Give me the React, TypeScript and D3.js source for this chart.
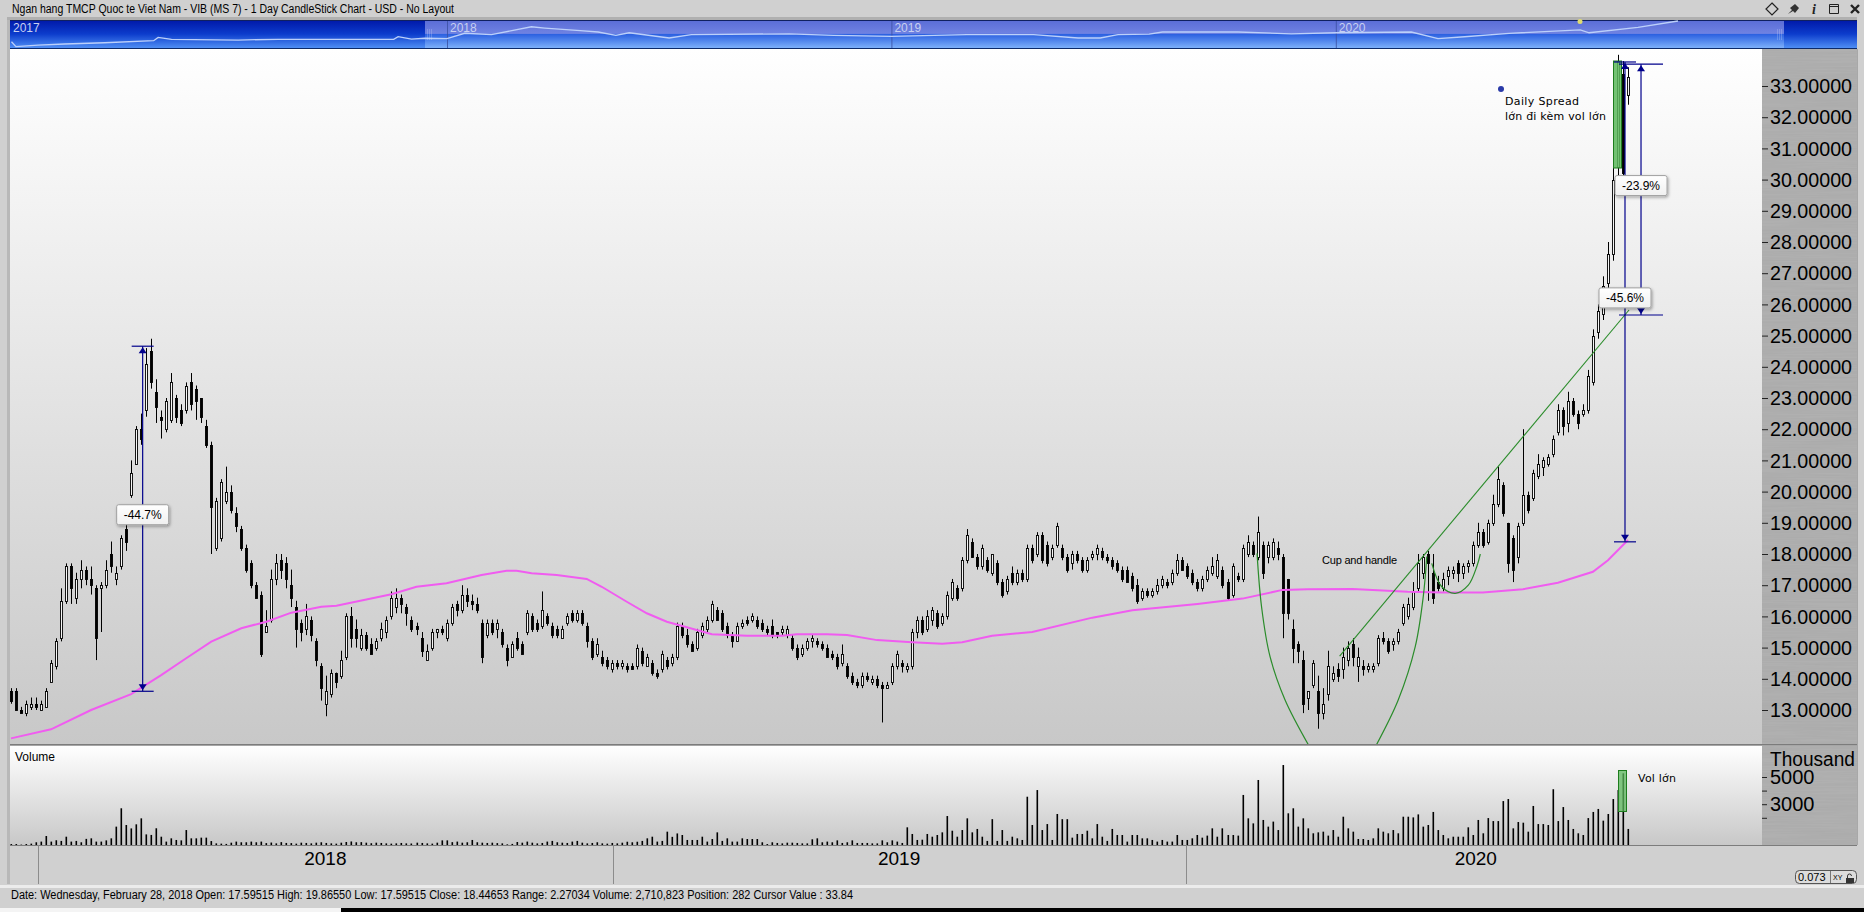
import React from "react";
import * as d3 from "d3";

const WIDTH = 1864;
const HEIGHT = 912;
const PLOT = { left: 10, right: 1762, top: 48, bottom: 744 };
const VOL = { top: 746, bottom: 845 };

// each row: open, close, high, low
const barsLate2017 = [
  [13.6, 13.3, 13.7, 13.2], [13.6, 13.0, 13.7, 13.0], [13.0, 12.9, 13.1, 12.9], [12.9, 13.2, 13.3, 12.8], [13.1, 13.2, 13.4, 13.0],
];
const bars2018 = [
  [13.2, 13.1, 13.4, 13.0], [13.0, 13.2, 13.3, 13.0], [13.1, 13.6, 13.7, 13.1], [13.9, 14.5, 14.6, 13.9], [14.4, 15.2, 15.3, 14.3],
  [15.3, 16.5, 16.9, 15.2], [16.5, 17.6, 17.7, 16.4], [17.6, 16.9, 17.7, 16.4], [16.6, 17.2, 17.4, 16.4], [17.2, 17.5, 17.8, 16.9],
  [17.5, 17.2, 17.6, 17.0], [17.2, 17.0, 17.6, 16.7], [16.9, 15.3, 17.0, 14.6], [16.9, 17.0, 17.1, 15.5], [17.0, 17.5, 17.8, 16.9],
  [18.0, 17.6, 18.4, 17.4], [17.2, 17.4, 17.6, 17.0], [17.6, 18.5, 18.6, 17.5], [18.8, 18.4, 19.1, 18.1], [19.9, 20.6, 21.0, 19.8],
  [20.9, 22.0, 22.1, 20.9], [22.0, 21.7, 22.5, 21.5], [22.6, 24.1, 24.6, 22.4], [24.5, 23.5, 24.9, 23.3], [23.2, 22.7, 23.6, 22.2],
  [22.4, 22.3, 22.6, 21.7], [22.0, 22.9, 23.0, 21.9], [22.3, 23.5, 23.8, 22.2], [23.0, 22.4, 23.1, 22.2], [22.6, 22.2, 22.8, 22.1],
  [22.6, 23.4, 23.5, 22.5], [23.5, 22.8, 23.8, 22.6], [23.3, 22.9, 23.4, 22.3], [23.0, 22.4, 23.0, 22.2], [22.1, 21.5, 22.3, 21.4],
  [21.5, 19.5, 21.6, 18.0], [18.2, 19.7, 19.8, 18.1], [18.5, 20.3, 20.4, 18.4], [19.7, 20.0, 20.8, 19.6], [20.0, 19.4, 20.2, 19.3],
  [19.3, 18.9, 19.5, 18.7], [18.8, 18.2, 18.9, 18.1], [18.2, 17.5, 18.3, 17.4], [17.7, 17.0, 17.8, 16.9], [17.0, 16.6, 17.1, 16.6],
  [16.7, 14.8, 16.8, 14.7], [15.5, 15.7, 16.2, 15.5], [15.9, 17.2, 17.5, 15.8], [17.2, 17.7, 18.0, 17.0], [17.8, 17.5, 18.0, 17.2],
  [17.7, 17.2, 17.9, 16.9], [17.0, 16.6, 17.5, 16.3], [16.3, 15.6, 16.5, 15.0], [15.8, 15.5, 15.9, 15.2], [15.6, 16.0, 16.4, 15.4],
  [15.9, 15.4, 16.0, 15.2], [15.2, 14.6, 15.3, 14.4], [14.4, 13.7, 14.5, 13.3], [13.2, 13.6, 14.1, 12.8], [13.5, 14.2, 14.3, 13.4],
  [14.2, 13.9, 14.2, 13.7], [14.1, 14.6, 14.9, 14.0], [14.7, 16.0, 16.1, 14.6], [16.0, 15.3, 16.3, 15.0], [15.6, 15.3, 15.9, 15.0],
  [15.0, 15.4, 15.6, 14.9], [15.4, 15.0, 15.5, 14.9], [15.1, 14.8, 15.3, 14.8], [15.0, 15.2, 15.3, 14.9], [15.3, 15.6, 15.8, 15.2],
  [15.5, 15.9, 16.0, 15.3], [16.0, 16.6, 16.8, 15.9], [16.3, 16.6, 16.9, 16.1], [16.6, 16.4, 16.7, 16.1], [16.3, 16.1, 16.4, 15.7],
  [15.9, 15.6, 16.0, 15.5], [15.7, 15.6, 15.8, 15.4], [15.3, 14.9, 15.5, 14.7], [14.6, 14.9, 15.1, 14.6], [15.0, 15.5, 15.6, 14.9],
  [15.5, 15.6, 15.6, 15.3], [15.6, 15.5, 15.7, 15.4], [15.3, 15.8, 15.9, 15.2], [15.8, 16.3, 16.4, 15.7], [16.4, 16.2, 16.5, 16.0],
  [16.2, 16.7, 17.0, 16.1], [16.7, 16.5, 16.9, 16.3], [16.5, 16.4, 16.7, 16.2], [16.4, 16.2, 16.6, 16.1], [15.8, 14.7, 15.9, 14.5],
  [15.4, 15.8, 15.9, 15.3], [15.8, 15.5, 15.9, 15.4], [15.6, 15.8, 15.9, 15.3], [15.5, 15.1, 15.6, 15.0], [15.0, 14.6, 15.1, 14.4],
  [14.7, 15.1, 15.2, 14.7], [15.3, 15.0, 15.5, 14.9], [15.1, 14.8, 15.2, 14.8], [15.5, 16.1, 16.2, 15.4], [16.0, 15.6, 16.1, 15.5],
  [15.8, 15.6, 15.9, 15.5], [15.7, 16.2, 16.8, 15.6], [16.0, 15.8, 16.1, 15.7], [15.7, 15.4, 15.8, 15.3], [15.6, 15.4, 15.7, 15.3],
  [15.3, 15.6, 15.7, 15.3], [15.8, 16.0, 16.1, 15.7], [16.1, 15.9, 16.2, 15.8], [15.9, 16.1, 16.2, 15.8], [16.1, 15.8, 16.2, 15.7],
  [15.7, 15.2, 15.8, 15.0], [15.2, 14.7, 15.3, 14.6], [14.8, 15.1, 15.3, 14.7], [14.7, 14.5, 14.9, 14.4], [14.6, 14.4, 14.7, 14.3],
];
const bars2019 = [
  [14.3, 14.5, 14.6, 14.2], [14.5, 14.4, 14.6, 14.3], [14.4, 14.5, 14.6, 14.3], [14.4, 14.3, 14.5, 14.2], [14.4, 14.3, 14.5, 14.3],
  [14.4, 15.0, 15.1, 14.3], [14.9, 14.5, 15.0, 14.4], [14.4, 14.7, 14.8, 14.4], [14.5, 14.2, 14.6, 14.1], [14.2, 14.1, 14.3, 14.0],
  [14.3, 14.8, 14.9, 14.2], [14.6, 14.4, 14.7, 14.3], [14.5, 14.7, 14.8, 14.4], [14.7, 15.7, 15.8, 14.6], [15.7, 15.4, 15.8, 15.3],
  [15.4, 15.1, 15.6, 15.0], [15.1, 14.9, 15.2, 14.9], [15.0, 15.5, 15.6, 14.9], [15.4, 15.7, 15.8, 15.3], [15.6, 15.9, 16.0, 15.5],
  [15.9, 16.4, 16.5, 15.8], [16.2, 15.9, 16.3, 15.9], [16.1, 15.6, 16.2, 15.5], [15.7, 15.4, 15.8, 15.3], [15.4, 15.2, 15.5, 15.0],
  [15.2, 15.7, 15.8, 15.2], [15.7, 15.8, 15.9, 15.6], [15.9, 15.8, 16.0, 15.7], [15.9, 16.0, 16.1, 15.8], [15.9, 15.7, 16.0, 15.6],
  [15.8, 15.6, 15.9, 15.5], [15.6, 15.5, 15.7, 15.4], [15.7, 15.4, 15.9, 15.3], [15.5, 15.4, 15.5, 15.3], [15.5, 15.6, 15.7, 15.4],
  [15.4, 15.6, 15.7, 15.3], [15.3, 15.0, 15.4, 14.9], [15.0, 14.7, 15.1, 14.6], [14.8, 15.0, 15.1, 14.7], [15.0, 15.2, 15.3, 14.9],
  [15.2, 15.3, 15.4, 15.0], [15.2, 15.1, 15.3, 15.0], [15.1, 15.0, 15.2, 14.9], [15.0, 14.7, 15.1, 14.7], [14.8, 14.7, 14.9, 14.6],
  [14.7, 14.4, 14.8, 14.3], [14.5, 14.8, 15.1, 14.4], [14.4, 14.1, 14.5, 14.0], [14.1, 13.9, 14.2, 13.8], [13.9, 13.8, 14.0, 13.7],
  [13.8, 14.1, 14.2, 13.7], [14.1, 14.0, 14.2, 13.9], [13.9, 14.0, 14.1, 13.8], [14.0, 13.8, 14.1, 13.7], [13.8, 13.7, 13.9, 12.6],
  [13.7, 13.8, 13.9, 13.7], [13.9, 14.4, 14.5, 13.8], [14.4, 14.8, 14.9, 14.3], [14.5, 14.4, 14.6, 14.2], [14.3, 14.4, 14.5, 14.2],
  [14.4, 15.5, 15.6, 14.3], [15.5, 15.9, 16.0, 15.3], [15.9, 15.5, 16.0, 15.4], [15.6, 16.0, 16.2, 15.5], [15.9, 16.2, 16.3, 15.7],
  [16.1, 15.7, 16.2, 15.6], [15.8, 16.0, 16.1, 15.7], [16.0, 16.7, 16.8, 15.9], [16.6, 17.1, 17.2, 16.5], [16.9, 16.6, 17.0, 16.5],
  [16.9, 17.8, 17.9, 16.8], [17.8, 18.6, 18.8, 17.7], [18.4, 17.9, 18.5, 17.9], [17.9, 17.6, 18.0, 17.5], [17.6, 18.2, 18.3, 17.5],
  [17.8, 17.5, 17.9, 17.4], [17.4, 18.0, 18.0, 17.3], [17.7, 17.1, 17.8, 17.0], [17.1, 16.7, 17.2, 16.6], [16.8, 17.2, 17.3, 16.7],
  [17.4, 17.1, 17.6, 17.0], [17.1, 17.4, 17.5, 17.0], [17.4, 17.2, 17.5, 17.1], [17.2, 18.2, 18.3, 17.1], [18.2, 17.8, 18.3, 17.7],
  [18.0, 18.6, 18.7, 17.9], [18.6, 17.8, 18.7, 17.7], [18.3, 17.7, 18.4, 17.6], [17.9, 18.2, 18.3, 17.8], [18.3, 18.9, 19.0, 18.2],
  [18.2, 17.9, 18.3, 17.8], [17.9, 17.5, 18.0, 17.4], [17.7, 18.0, 18.1, 17.5], [18.0, 17.8, 18.1, 17.7], [17.8, 17.5, 17.9, 17.4],
  [17.5, 17.8, 17.9, 17.4], [17.9, 18.0, 18.1, 17.8], [18.0, 18.2, 18.3, 17.8], [18.1, 17.9, 18.2, 17.8], [17.9, 17.8, 18.0, 17.7],
  [17.8, 17.6, 17.9, 17.5], [17.7, 17.5, 17.8, 17.4], [17.5, 17.2, 17.6, 17.1], [17.5, 17.1, 17.6, 17.1], [17.3, 16.9, 17.4, 16.8],
  [17.0, 16.5, 17.2, 16.4], [16.6, 16.8, 16.9, 16.5], [16.8, 16.7, 16.9, 16.6], [16.7, 16.8, 16.9, 16.6], [16.8, 17.0, 17.2, 16.7],
  [17.0, 17.2, 17.3, 16.9], [17.1, 17.0, 17.2, 16.9], [17.1, 17.4, 17.5, 17.0], [17.4, 17.8, 18.0, 17.3], [17.8, 17.5, 17.9, 17.5],
];
const bars2020 = [
  [17.6, 17.3, 17.7, 17.2], [17.4, 17.1, 17.5, 17.0], [17.1, 16.9, 17.2, 16.8], [16.9, 17.2, 17.3, 16.8], [17.2, 17.5, 17.6, 17.1],
  [17.4, 17.6, 17.9, 17.3], [17.3, 17.8, 18.0, 17.2], [17.5, 17.0, 17.6, 16.9], [17.1, 16.6, 17.2, 16.5], [16.7, 17.6, 17.7, 16.6],
  [17.3, 17.2, 17.4, 17.1], [17.2, 18.2, 18.3, 17.1], [18.0, 18.4, 18.6, 17.9], [18.3, 18.0, 18.4, 17.9], [17.9, 18.7, 19.2, 17.8],
  [18.3, 17.4, 18.4, 17.2], [17.9, 18.3, 18.4, 17.7], [17.9, 18.4, 18.5, 17.8], [18.2, 18.0, 18.4, 17.8],
  [17.9, 16.1, 18.0, 15.3], [17.2, 16.1, 17.2, 15.9], [15.6, 15.0, 15.9, 14.5], [15.1, 14.9, 15.2, 14.5], [14.6, 13.2, 14.9, 12.9],
  [13.4, 13.6, 13.6, 13.0], [13.8, 14.5, 14.6, 13.7], [13.6, 12.9, 14.1, 12.4], [12.9, 13.2, 13.7, 12.7], [13.5, 14.4, 14.9, 13.3],
  [14.0, 14.2, 14.4, 13.9], [14.3, 14.1, 14.5, 13.9], [14.3, 14.7, 15.0, 14.0], [14.6, 15.0, 15.2, 14.4], [15.1, 14.7, 15.3, 14.4],
  [14.4, 14.7, 15.0, 13.9], [14.4, 14.3, 14.6, 14.1], [14.3, 14.4, 14.5, 14.2], [14.3, 14.4, 14.5, 14.2], [14.5, 15.3, 15.4, 14.4],
  [15.3, 15.2, 15.5, 15.1], [15.2, 14.9, 15.3, 14.8], [15.1, 15.2, 15.3, 14.9], [15.2, 15.5, 15.6, 15.1], [15.8, 16.3, 16.4, 15.7],
  [16.0, 16.4, 16.6, 15.9], [16.3, 16.8, 17.1, 16.2], [16.9, 17.7, 18.0, 16.8], [17.4, 17.9, 18.0, 17.2], [18.0, 17.7, 18.1, 16.5],
  [17.4, 16.6, 18.0, 16.4], [17.1, 16.9, 17.3, 16.8], [16.9, 17.2, 17.4, 16.8], [17.3, 17.5, 17.6, 17.0], [17.4, 17.5, 17.6, 17.2],
  [17.7, 17.4, 17.8, 17.1], [17.4, 17.6, 17.7, 17.2], [17.6, 17.7, 17.8, 17.4], [17.7, 18.3, 18.4, 17.6], [18.3, 18.7, 19.0, 18.2],
  [18.7, 18.3, 18.8, 18.2], [18.4, 19.0, 19.1, 18.3], [19.0, 19.6, 19.9, 18.9], [19.6, 20.4, 20.8, 19.5], [20.2, 19.3, 20.3, 19.2],
  [19.0, 17.7, 19.0, 17.4], [18.5, 17.5, 18.6, 17.1], [17.9, 18.9, 19.0, 17.7], [19.0, 19.9, 22.0, 18.9], [19.9, 19.4, 20.0, 19.3],
  [19.8, 20.6, 20.7, 19.7], [20.5, 20.9, 21.2, 20.4], [20.8, 21.0, 21.1, 20.5], [20.9, 21.1, 21.2, 20.8], [21.2, 21.7, 21.8, 21.1],
  [21.9, 22.6, 22.8, 21.8], [22.6, 22.1, 22.7, 21.8], [22.2, 22.9, 23.2, 21.9], [22.9, 22.5, 23.0, 22.4], [22.5, 22.2, 22.6, 22.0],
  [22.5, 22.6, 22.8, 22.4], [22.6, 23.7, 23.9, 22.5], [23.5, 25.0, 25.2, 23.4], [25.1, 25.8, 26.0, 24.9], [25.7, 26.6, 26.9, 25.5],
  [26.7, 27.6, 28.0, 26.5], [27.6, 30.0, 30.4, 27.4], [30.4, 33.8, 34.0, 30.0], [33.4, 30.2, 33.8, 30.0], [32.7, 33.3, 33.6, 32.4],
];
const candles = [...barsLate2017, ...bars2018, ...bars2019, ...bars2020];

// volume per bar, in units of 1000
const volumesLate2017 = [70, 70, 30, 70, 100];
const volumes2018 = [
  200, 250, 660, 250, 350, 300, 610, 250, 300, 200, 450, 490, 250, 250, 340, 490, 1350, 2700, 1470, 1220, 1520, 1960, 780, 740, 1230,
  610, 250, 490, 370, 340, 1100, 490, 490, 540, 540, 290, 120, 100, 80, 170, 250, 200, 200, 250, 200, 250, 140, 180, 120, 210,
  150, 140, 100, 170, 150, 120, 170, 200, 150, 120, 100, 170, 220, 260, 200, 210, 170, 130, 170, 150, 120, 100, 120, 150, 120,
  110, 170, 150, 120, 100, 170, 340, 340, 210, 250, 170, 200, 370, 200, 170, 150, 170, 140, 120, 50, 80, 220, 170, 250, 170,
  120, 150, 250, 300, 200, 170, 150, 250, 300, 170, 120, 150, 200, 120, 100,
];
const volumes2019 = [
  150, 120, 170, 240, 200, 240, 300, 490, 610, 250, 300, 980, 600, 850, 735, 370, 370, 370, 610, 250, 440, 930, 300, 490, 250,
  250, 490, 440, 440, 440, 200, 70, 200, 150, 120, 170, 170, 150, 120, 120, 420, 490, 200, 250, 200, 340, 150, 200, 340, 150,
  150, 150, 120, 120, 340, 200, 340, 250, 150, 1300, 810, 370, 390, 810, 610, 735, 930, 2130, 1050, 610, 1100, 1960, 930, 1180, 610,
  300, 1900, 300, 1100, 300, 610, 490, 370, 3550, 1470, 4040, 1100, 1540, 370, 2280, 1900, 1900, 540, 810, 810, 1050, 490, 1540, 610, 300,
  1180, 735, 735, 250, 735, 735, 490, 490, 370, 250, 370, 250, 250, 735, 370,
];
const volumes2020 = [
  370, 490, 735, 540, 690, 1225, 610, 1225, 735, 735, 690, 3680, 1960, 1590, 4780, 1840, 1350, 1720, 1100, 5880, 2330, 2700, 1350, 1960, 1225,
  860, 930, 980, 690, 1100, 610, 2080, 1225, 980, 440, 440, 370, 490, 1225, 980, 860, 1100, 860, 2080, 2080, 2030, 2250, 1350, 1470, 2430,
  1100, 735, 490, 610, 610, 610, 1300, 735, 1840, 860, 1980, 1760, 1760, 3230, 3380, 1225, 1690, 1640, 980, 2870, 1540, 1540, 1470, 4100, 1760,
  2790, 1840, 1180, 860, 735, 1980, 2430, 2650, 1790, 2280, 3380, 4040, 5270, 1180,
];
const volumes = [...volumesLate2017, ...volumes2018, ...volumes2019, ...volumes2020];

const maBars = [0, 8, 16, 24, 30, 35, 40, 46, 51, 56, 62, 65, 76, 81, 87, 94, 99, 101, 104, 109, 115, 118, 123, 127, 131, 135, 140, 147, 154, 157, 163, 167, 173, 180, 186, 190, 196, 204, 216, 224, 237, 246, 254, 259, 268, 279, 286, 294, 302, 309, 316, 319, 323];
const maValues = [12.09, 12.38, 13.0, 13.51, 14.12, 14.66, 15.19, 15.62, 15.83, 16.12, 16.31, 16.34, 16.71, 16.95, 17.06, 17.33, 17.46, 17.46, 17.38, 17.33, 17.2, 16.95, 16.47, 16.1, 15.83, 15.65, 15.43, 15.38, 15.38, 15.43, 15.43, 15.4, 15.24, 15.17, 15.12, 15.17, 15.38, 15.5, 15.96, 16.2, 16.4, 16.57, 16.85, 16.87, 16.88, 16.79, 16.77, 16.77, 16.87, 17.08, 17.43, 17.8, 18.45];

// overview strip: fractional year and price
const navDates = [2017.02, 2017.03, 2017.08, 2017.14, 2017.23, 2017.34, 2017.35, 2017.38, 2017.53, 2017.62, 2017.8, 2017.88, 2017.89, 2017.92, 2017.95, 2018, 2018.04, 2018.1, 2018.19, 2018.22, 2018.3, 2018.34, 2018.38, 2018.41, 2018.5, 2018.55, 2018.77, 2018.87, 2019, 2019.17, 2019.32, 2019.42, 2019.47, 2019.51, 2019.58, 2019.61, 2019.78, 2019.9, 2020, 2020.17, 2020.23, 2020.29, 2020.39, 2020.55, 2020.57, 2020.68, 2020.77];
const navPrices = [16.8, 12.9, 14.2, 15, 16, 17.6, 20.2, 18.7, 18.1, 18.7, 18.7, 18.7, 20.7, 18.9, 19.5, 19.2, 23.4, 22.3, 28.5, 27.5, 25.4, 24.4, 21.8, 23.8, 19.7, 22.3, 23, 21.8, 21, 22.3, 22.3, 19.7, 19.7, 22.3, 22.8, 24.4, 24.4, 23, 23.8, 24.4, 19.2, 20.7, 23.4, 26, 23.8, 28, 33];
const navYears = [2017, 2018, 2019, 2020];

// hand drawn studies on the chart
const cupLeftBars = [248.9, 249.8, 251.5, 254.5, 259.1];
const cupLeftPrices = [18.02, 16.31, 14.71, 13.32, 11.9];
const cupRightBars = [272.8, 277.1, 280.5, 282.1, 282.8];
const cupRightPrices = [11.9, 13.32, 15.03, 16.63, 17.92];
const handleBars = [283.8, 285.8, 288.5, 291.1, 292.8, 293.5];
const handlePrices = [17.7, 16.95, 16.74, 17.0, 17.6, 18.0];
const trendBars = [265.4, 323.2];
const trendPrices = [14.73, 25.82];

const measureBars = [26.3, 322.4, 325.6];
const measureHighs = [24.66, 33.77, 33.7];
const measureLows = [13.6, 18.39, 25.66];
const measureLabels = ["-44.7%", "-45.6%", "-23.9%"];
const measureCaps = [11, 11, 22];

const priceTicks = d3.range(13, 34);
const volumeTicks = [2000, 3000, 4000, 5000];
const volumeLabels = [3000, 5000];
const yearBars = [5.4, 120.2, 234.8];
const yearLabels = ["2018", "2019", "2020"];
const yearLabelBars = [62.8, 177.4, 292.6];

const STATUS = "Date: Wednesday, February 28, 2018 Open: 17.59515 High: 19.86550 Low: 17.59515 Close: 18.44653 Range: 2.27034 Volume: 2,710,823 Position: 282 Cursor Value : 33.84";
const FONT = "'Liberation Sans', Arial, sans-serif";
const NOTE_FONT = "'DejaVu Sans', Verdana, sans-serif";

export default function App() {
  const x = d3.scaleLinear().domain([0, candles.length - 1]).range([11, 1628]);
  const y = d3.scaleLinear().domain([13, 33]).range([710, 86]);
  const yVol = d3.scaleLinear().domain([0, 5000]).range([VOL.bottom, 777]);
  const xNav = d3.scaleLinear().domain([2018, 2019]).range([447, 891.4]);
  const yNav = d3.scaleLinear().domain([12.9, 33]).range([46.7, 21]);

  const studyLine = d3.line<number>().x((d) => x(d)).curve(d3.curveCatmullRom.alpha(0.5));
  const curve = (bars: number[], prices: number[]) =>
    studyLine.y((_, i) => y(prices[i]))(bars) ?? "";
  const maPath = d3
    .line<number>()
    .x((d) => x(d))
    .y((_, i) => y(maValues[i]))(maBars) ?? "";
  const navPath = d3
    .line<number>()
    .x((d) => xNav(d))
    .y((_, i) => yNav(navPrices[i]))(navDates) ?? "";

  return (
    <svg
      width={WIDTH}
      height={HEIGHT}
      viewBox={`0 0 ${WIDTH} ${HEIGHT}`}
      style={{ position: "fixed", left: 0, top: 0, display: "block", fontFamily: FONT }}
    >
      <defs>
        <linearGradient id="plotBg" x1="0" y1="0" x2="0" y2="1">
          <stop offset="0" stopColor="#ffffff" />
          <stop offset="1" stopColor="#c8c8c8" />
        </linearGradient>
        <linearGradient id="navDark" x1="0" y1="0" x2="0" y2="1">
          <stop offset="0" stopColor="#0018a8" />
          <stop offset="0.5" stopColor="#0c3ccc" />
          <stop offset="1" stopColor="#4f8ef4" />
        </linearGradient>
        <linearGradient id="navLight" x1="0" y1="0" x2="0" y2="1">
          <stop offset="0" stopColor="#5a6cd6" />
          <stop offset="0.48" stopColor="#6f82e2" />
          <stop offset="0.5" stopColor="#2a5fe0" />
          <stop offset="1" stopColor="#7db0fa" />
        </linearGradient>
        <linearGradient id="labelBg" x1="0" y1="0" x2="0" y2="1">
          <stop offset="0" stopColor="#ffffff" />
          <stop offset="1" stopColor="#f0f0f0" />
        </linearGradient>
        <filter id="boxShadow" x="-20%" y="-30%" width="140%" height="170%">
          <feDropShadow dx="1" dy="1.5" stdDeviation="1.5" floodColor="#000" floodOpacity="0.35" />
        </filter>
        <filter id="metal" x="0" y="0" width="100%" height="100%">
          <feTurbulence type="fractalNoise" baseFrequency="0.015 0.7" numOctaves="2" seed="4" result="n" />
          <feColorMatrix in="n" type="matrix" values="0 0 0 0 0.35  0 0 0 0 0.35  0 0 0 0 0.35  0 0 0 0.55 -0.12" result="g" />
          <feMerge>
            <feMergeNode in="SourceGraphic" />
            <feMergeNode in="g" />
          </feMerge>
        </filter>
        <clipPath id="plotClip">
          <rect x={PLOT.left} y={PLOT.top} width={PLOT.right - PLOT.left} height={PLOT.bottom - PLOT.top} />
        </clipPath>
      </defs>

      {/* window chrome */}
      <rect width={WIDTH} height={HEIGHT} fill="#d0d0d0" />
      <rect x={7} y={18} width={3} height={866} fill="#b8b8b8" />
      <rect x={0} y={885} width={WIDTH} height={3} fill="#ececec" />
      <rect x={0} y={908} width={WIDTH} height={4} fill="#000" />
      <rect x={0} y={908} width={341} height={4} fill="#f4f4f4" />
      <rect x={7} y={17} width={1850} height={3} fill="#b0b0b0" />
      <text x={12} y={13} fontSize={12} textLength={442} lengthAdjust="spacingAndGlyphs">
        Ngan hang TMCP Quoc te Viet Nam - VIB (MS 7) - 1 Day CandleStick Chart - USD - No Layout
      </text>

      {/* title bar buttons */}
      <path d="M1772 3l6 6-6 6-6-6z" fill="none" stroke="#222" strokeWidth={1.2} />
      <path d="M1788 14l4-4-2-2 5-4 4 4-4 5-2-2z" fill="#333" />
      <text x={1814} y={14} fontSize={14} fontStyle="italic" fontWeight="bold" fontFamily="'Liberation Serif', serif" fill="#222" textAnchor="middle">i</text>
      <path d="M1829.5 4.5h9v9h-9z M1829.5 6.5h9" fill="none" stroke="#222" />
      <path d="M1851 5l8 8M1859 5l-8 8" stroke="#222" strokeWidth={2.4} />

      {/* overview strip */}
      <rect x={PLOT.left} y={20} width={1847} height={28} fill="url(#navDark)" />
      <rect x={425} y={20} width={1359} height={28} fill="url(#navLight)" />
      <rect x={PLOT.left} y={48} width={1847} height={1} fill="#0c2a6a" />
      <rect x={PLOT.left} y={20} width={1847} height={1} fill="#102060" />
      {navYears.map((yr) => (
        <g key={yr}>
          {yr > 2017 && <line x1={xNav(yr) + 0.5} x2={xNav(yr) + 0.5} y1={21} y2={48} stroke="#3a4fa0" strokeOpacity={0.8} />}
          <text x={yr === 2017 ? 13 : xNav(yr) + 3} y={32} fontSize={12} fill="#c8d0f0">{yr}</text>
        </g>
      ))}
      <path d={navPath} fill="none" stroke="#bcd0fa" strokeWidth={1.3} />
      {[427, 429, 431, 1777, 1779, 1781].map((gx) => (
        <line key={gx} x1={gx + 0.5} x2={gx + 0.5} y1={29} y2={40} stroke="#dfe6fa" strokeOpacity={0.35} strokeWidth={0.7} />
      ))}
      <circle cx={1580} cy={21.5} r={2.5} fill="#e0dc70" />

      {/* price panel */}
      <rect x={PLOT.left} y={49} width={PLOT.right - PLOT.left} height={PLOT.bottom - 49} fill="url(#plotBg)" />
      <rect x={PLOT.right} y={49} width={95} height={PLOT.bottom - 49} fill="#b0b0b0" filter="url(#metal)" />
      <rect x={PLOT.right + 95} y={49} width={1} height={796} fill="#a8a8a8" />
      <rect x={PLOT.left} y={PLOT.bottom} width={1847} height={1.5} fill="#7c7c7c" />

      {priceTicks.map((t) => (
        <g key={t}>
          <line x1={PLOT.right} x2={PLOT.right + 6} y1={y(t) + 0.5} y2={y(t) + 0.5} stroke="#222" />
          <text x={1770} y={y(t)} dy="0.36em" fontSize={20} fill="#000" textLength={82} lengthAdjust="spacingAndGlyphs">
            {t.toFixed(5)}
          </text>
        </g>
      ))}

      <g clipPath="url(#plotClip)">
        {candles.map(([open, close, high, low], i) => {
          const cx = Math.round(x(i)) + 0.5;
          const top = Math.round(y(Math.max(open, close))) + 0.5;
          const bottom = Math.round(y(Math.min(open, close))) + 0.5;
          return (
            <g key={i}>
              <line x1={cx} x2={cx} y1={y(high)} y2={y(low)} stroke="#000" />
              <rect
                x={cx - 1}
                y={top}
                width={2}
                height={Math.max(bottom - top, 1)}
                fill={close >= open ? "#f6f6f6" : "#000"}
                stroke="#000"
                strokeWidth={0.9}
              />
            </g>
          );
        })}
        <path d={maPath} fill="none" stroke="#f05cf0" strokeWidth={2} />
        <path d={curve(cupLeftBars, cupLeftPrices)} fill="none" stroke="#2a8c2a" strokeWidth={1.2} />
        <path d={curve(cupRightBars, cupRightPrices)} fill="none" stroke="#2a8c2a" strokeWidth={1.2} />
        <path d={curve(handleBars, handlePrices)} fill="none" stroke="#2a8c2a" strokeWidth={1.2} />
        <line x1={x(trendBars[0])} y1={y(trendPrices[0])} x2={x(trendBars[1])} y2={y(trendPrices[1])} stroke="#2a8c2a" strokeWidth={1.1} />
        <rect x={1613.5} y={61} width={8} height={107} fill="#5cb85c" fillOpacity={0.85} stroke="#1d7d1d" />
      </g>

      {/* measure arrows */}
      {measureBars.map((b, i) => {
        const mx = x(b);
        const yHigh = y(measureHighs[i]);
        const yLow = y(measureLows[i]);
        return (
          <g key={b} stroke="#00008b" fill="#00008b">
            <line x1={mx} x2={mx} y1={yHigh} y2={yLow} strokeWidth={1.2} />
            <line x1={mx - measureCaps[i]} x2={mx + measureCaps[i]} y1={yHigh} y2={yHigh} strokeWidth={1.2} />
            <line x1={mx - measureCaps[i]} x2={mx + measureCaps[i]} y1={yLow} y2={yLow} strokeWidth={1.2} />
            <path d={`M${mx} ${yHigh + 1}l4 6h-8z`} stroke="none" />
            <path d={`M${mx} ${yLow - 1}l4 -6h-8z`} stroke="none" />
          </g>
        );
      })}
      {measureBars.map((b, i) => {
        const mx = x(b);
        const my = (y(measureHighs[i]) + y(measureLows[i])) / 2 - 4;
        return (
          <g key={measureLabels[i]}>
            <rect x={mx - 26} y={my - 10} width={52} height={20} rx={2} fill="url(#labelBg)" stroke="#a0a0a0" filter="url(#boxShadow)" />
            <text x={mx} y={my} dy="0.36em" textAnchor="middle" fontSize={12} fill="#000">{measureLabels[i]}</text>
          </g>
        );
      })}

      {/* notes */}
      <circle cx={1501} cy={89} r={3} fill="#2a3aa8" />
      <text x={1505} y={105} fontSize={11} fontFamily={NOTE_FONT} textLength={74} lengthAdjust="spacing">Daily Spread</text>
      <text x={1505} y={120} fontSize={11} fontFamily={NOTE_FONT} textLength={101} lengthAdjust="spacing">lớn đi kèm vol lớn</text>
      <text x={1322} y={564} fontSize={11} textLength={75} lengthAdjust="spacing">Cup and handle</text>

      {/* volume panel */}
      <rect x={PLOT.left} y={VOL.top} width={PLOT.right - PLOT.left} height={VOL.bottom - VOL.top} fill="url(#plotBg)" />
      <rect x={PLOT.right} y={VOL.top} width={95} height={VOL.bottom - VOL.top} fill="#b0b0b0" filter="url(#metal)" />
      <text x={15} y={761} fontSize={12}>Volume</text>
      {volumes.map((v, i) => (
        <rect key={i} x={Math.round(x(i)) - 0.5} y={yVol(v)} width={1.6} height={VOL.bottom - yVol(v)} fill="#000" />
      ))}
      <rect x={1618.5} y={770.5} width={8} height={41} fill="#5cb85c" fillOpacity={0.75} stroke="#1d7d1d" />
      <text x={1638} y={782} fontSize={11} fontFamily={NOTE_FONT} textLength={38} lengthAdjust="spacing">Vol lớn</text>
      <rect x={PLOT.left} y={VOL.bottom} width={1847} height={1} fill="#7c7c7c" />
      {volumeTicks.map((t) => (
        <line key={t} x1={PLOT.right} x2={PLOT.right + 5} y1={yVol(t) + 0.5} y2={yVol(t) + 0.5} stroke="#222" />
      ))}
      <text x={1770} y={766} fontSize={20} textLength={85} lengthAdjust="spacingAndGlyphs">Thousand</text>
      {volumeLabels.map((t) => (
        <text key={t} x={1770} y={yVol(t)} dy="0.36em" fontSize={20}>{t}</text>
      ))}

      {/* time axis */}
      {yearBars.map((b) => (
        <line key={b} x1={Math.round(x(b)) + 0.5} x2={Math.round(x(b)) + 0.5} y1={VOL.bottom} y2={884} stroke="#8c8c8c" />
      ))}
      {yearLabels.map((label, i) => (
        <text key={label} x={x(yearLabelBars[i])} y={865} fontSize={19} textAnchor="middle" fill="#000">{label}</text>
      ))}

      {/* scale badge */}
      <rect x={1795.5} y={870.5} width={61} height={13} rx={4} fill="#dcdcdc" stroke="#555" />
      <line x1={1830.5} x2={1830.5} y1={871} y2={883} stroke="#777" />
      <text x={1798} y={881} fontSize={11}>0.073</text>
      <text x={1833} y={880} fontSize={7}>XY</text>
      <path d="M1846 878h8v5h-8z" fill="#333" />
      <path d="M1847.5 878v-2a2 2 0 0 1 4 0" fill="none" stroke="#333" />

      {/* status bar */}
      <text x={11} y={899} fontSize={12} textLength={842} lengthAdjust="spacingAndGlyphs">{STATUS}</text>
    </svg>
  );
}
